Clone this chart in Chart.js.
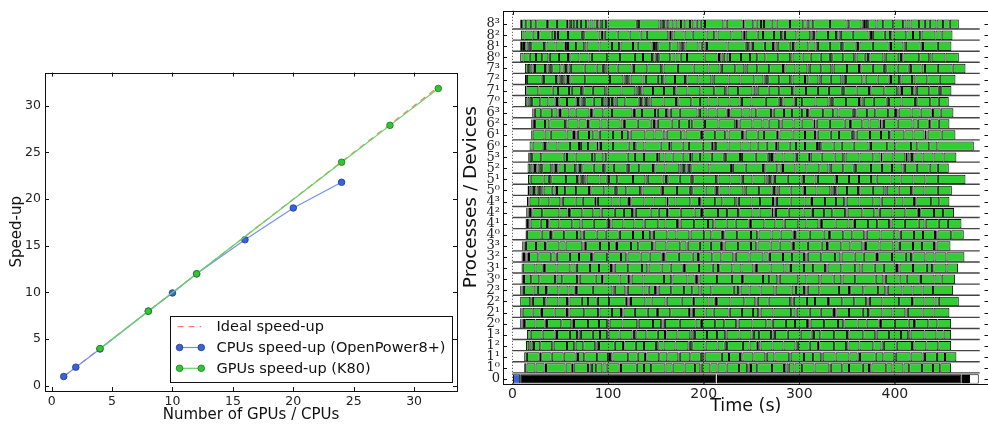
<!DOCTYPE html>
<html><head><meta charset="utf-8">
<script src="https://cdn.jsdelivr.net/npm/chart.js@4/dist/chart.umd.min.js"></script>
<style>
html,body{margin:0;padding:0;background:#fff;overflow:hidden;width:988px;height:424px}
#left{position:absolute;left:0;top:0;width:470px;height:424px}
#right{position:absolute;left:460px;top:0;width:532px;height:424px}
</style></head><body>
<div id="left"><canvas id="c1"></canvas></div>
<div id="right"><canvas id="c2"></canvas></div>
<script>
// ---------------- Left panel data ----------------
const idealCounts = [1, 32];
const idealSpeedup = [1, 32];
const cpuCounts = [1, 2, 4, 8, 10, 12, 16, 20, 24];
const cpuSpeedup = [1.0, 2.0, 3.95, 8.0, 9.95, 12.0, 15.65, 19.05, 21.8];
const gpuCounts = [4, 8, 12, 24, 28, 32];
const gpuSpeedup = [4.0, 8.0, 12.0, 23.95, 27.9, 31.85];
const leftXTicks = [0, 5, 10, 15, 20, 25, 30];
const leftYTicks = [0, 5, 10, 15, 20, 25, 30];

// ---------------- Right panel data ----------------
const rowLabels = ['0','1⁰','1¹','1²','1³','2⁰','2¹','2²','2³','3⁰','3¹','3²','3³',
  '4⁰','4¹','4²','4³','5⁰','5¹','5²','5³','6⁰','6¹','6²','6³','7⁰','7¹','7²','7³','8⁰','8¹','8²','8³'];
const timeTicks = [0, 100, 200, 300, 400];
const makespan = 488.8;
// process 0 (master): initial step, dense communication block, sparse tail tasks
const masterInit = [0.5, 8.0];
const masterDense = [[8.0, 213.3], [213.9, 469.6]];
const masterTail = [469.6, 471.3, 473.4, 475.5, 477.6, 487.8];
// task boundaries (s) for each worker device
const row1_0 = [12.2,14.5,24.0,33.5,35.0,55.5,62.0,64.0,79.0,80.5,83.0,87.5,94.0,98.5,112.0,113.5,130.0,137.5,145.0,160.0,167.5,180.0,191.0,196.5,198.0,207.0,214.5,224.0,237.0,245.5,247.0,249.5,256.0,271.5,284.0,286.5,289.0,295.0,303.0,316.0,331.5,333.0,345.0,352.0,366.5,373.0,375.5,391.0,397.5,409.0,415.0,428.5,440.0,447.5,458.9];
const row1_1 = [12.2,15.0,28.5,30.0,41.0,53.5,66.0,68.5,75.0,88.5,100.0,102.0,104.5,121.0,131.0,138.5,140.0,153.5,162.0,173.5,175.0,186.0,197.0,199.5,201.0,219.0,226.5,238.0,240.5,252.0,264.5,266.0,274.0,289.5,291.0,305.0,314.5,323.0,324.5,338.0,352.5,361.0,363.5,380.0,388.0,399.5,401.0,416.5,429.0,431.5,444.0,452.5,464.4];
const row1_2 = [14.0,17.5,20.0,22.5,29.0,41.5,43.0,57.0,64.5,66.0,74.0,86.5,88.0,90.5,107.0,115.5,117.0,129.0,137.5,150.0,152.5,158.0,170.5,184.0,185.5,188.0,202.0,214.5,222.0,224.5,241.0,248.0,255.5,257.0,259.5,272.0,283.5,296.0,298.5,311.0,319.5,321.0,336.5,349.0,351.5,363.0,377.5,386.0,388.5,402.0,418.0,420.5,433.0,445.5,458.9];
const row1_3 = [15.0,19.0,31.5,44.0,46.5,60.0,67.5,69.0,71.5,84.0,91.5,99.0,100.5,112.0,125.5,127.0,129.5,140.0,152.0,159.5,161.0,172.5,186.0,188.5,191.0,203.5,214.0,222.5,224.0,237.5,250.0,252.5,258.0,270.5,272.0,274.5,288.0,301.5,313.0,315.5,322.0,336.5,350.0,352.5,367.0,379.5,381.0,394.0,406.5,414.0,416.5,431.0,443.5,451.0,458.9];
const row2_0 = [8.0,9.3,10.6,11.9,13.2,24.0,33.5,34.8,36.1,51.0,61.5,63.0,64.3,79.0,90.5,99.0,100.3,101.6,115.0,130.5,132.0,147.0,155.5,156.8,158.1,159.4,175.0,191.5,197.0,198.3,212.0,221.5,234.0,235.3,236.6,251.0,265.5,271.0,272.3,286.0,295.5,308.0,309.3,310.6,311.9,326.0,340.5,346.0,347.3,361.0,370.5,383.0,384.3,385.6,400.0,414.5,420.0,421.3,435.0,444.5,458.9];
const row2_1 = [8.0,9.3,10.6,21.0,29.5,30.8,44.0,55.5,57.0,58.3,59.6,75.0,89.5,91.0,104.0,113.5,114.8,116.1,128.0,141.5,151.0,152.3,165.0,184.5,186.0,187.3,188.6,189.9,202.0,210.5,226.0,227.3,240.0,251.5,257.0,258.3,259.6,273.0,291.5,296.0,297.3,311.0,322.5,335.0,336.3,337.6,338.9,352.0,366.5,372.0,373.3,387.0,397.5,411.0,412.3,413.6,429.0,440.5,457.1];
const row2_2 = [8.0,18.5,20.0,21.3,33.0,35.5,48.0,57.0,58.3,59.6,72.5,79.0,88.0,89.3,101.0,118.5,120.0,121.3,122.6,123.9,139.0,145.5,160.0,161.3,177.0,188.5,190.0,205.0,211.5,212.8,214.1,228.0,242.5,254.0,255.3,256.6,268.0,290.5,293.0,294.3,308.0,316.5,330.0,331.3,345.0,357.5,370.0,371.3,372.6,373.9,387.0,404.5,418.0,419.3,431.0,441.5,446.0,466.9];
const row2_3 = [8.0,9.3,10.6,11.9,22.0,26.5,35.0,36.3,48.0,58.5,65.0,66.3,67.6,84.0,104.5,107.0,118.0,119.3,120.6,137.0,142.5,149.0,150.3,151.6,152.9,166.0,179.5,188.0,195.5,196.8,208.0,231.5,236.0,237.3,238.6,248.0,259.5,274.0,275.3,292.0,296.5,305.0,306.3,307.6,308.9,321.0,341.5,352.0,353.3,367.0,382.5,390.0,391.3,392.6,408.0,418.5,429.0,440.0,461.0];
const row3_0 = [9.4,10.7,12.0,19.5,28.0,44.5,46.0,52.0,67.5,69.0,70.3,87.0,93.5,95.0,112.0,120.5,122.0,123.3,124.6,137.0,158.5,166.0,167.3,183.0,190.5,191.8,193.1,194.4,195.7,214.0,229.5,240.0,241.3,262.0,268.5,277.0,278.3,279.6,299.0,307.5,321.0,322.3,336.0,344.0,345.3,358.5,380.0,388.0,389.3,390.6,405.0,412.5,426.0,427.3,441.5,449.0,463.1];
const row3_1 = [9.4,10.7,24.0,31.5,32.8,34.1,46.0,60.5,66.0,67.3,81.0,90.5,103.0,104.3,105.6,106.9,121.0,135.5,141.0,142.3,156.0,165.5,178.0,179.3,180.6,195.0,209.5,215.0,216.3,230.0,239.5,252.0,253.3,254.6,255.9,270.0,284.5,290.0,291.3,305.0,314.5,327.0,328.3,329.6,344.0,358.5,364.0,365.3,379.0,388.5,401.0,402.3,403.6,404.9,419.0,433.5,439.0,440.3,454.0,466.2];
const row3_2 = [9.4,10.7,12.0,13.3,14.6,15.9,17.2,27.0,40.5,45.0,46.3,60.0,69.5,82.0,83.3,84.6,99.0,113.5,119.0,120.3,134.0,143.5,156.0,157.3,158.6,159.9,174.0,188.5,194.0,195.3,209.0,218.5,231.0,232.3,233.6,248.0,262.5,268.0,269.3,283.0,292.5,305.0,306.3,307.6,308.9,323.0,337.5,343.0,344.3,358.0,367.5,380.0,381.3,382.6,397.0,411.5,417.0,418.3,432.0,441.5,454.0,472.8];
const row3_3 = [10.1,11.4,12.7,14.0,24.5,34.0,35.3,49.0,55.5,73.0,74.3,75.6,77.0,91.5,101.0,108.0,109.3,124.0,131.5,146.0,147.3,148.6,161.0,175.5,182.0,183.3,196.0,207.5,218.0,219.3,220.6,221.9,236.0,249.5,255.0,256.3,270.0,279.5,292.0,293.3,294.6,309.0,323.5,329.0,330.3,344.0,353.5,366.0,367.3,368.6,369.9,384.0,398.5,404.0,405.3,419.0,428.5,441.0,442.3,443.6,458.2];
const row4_0 = [13.6,15.0,30.5,39.0,40.3,41.6,54.0,67.5,72.0,73.3,74.6,88.0,97.5,111.0,112.3,126.0,136.5,144.0,145.3,146.6,147.9,162.0,171.5,185.0,186.3,200.5,208.0,219.0,220.3,221.6,235.0,249.5,256.0,257.3,271.0,280.5,293.0,294.3,295.6,296.9,311.0,325.5,331.0,332.3,346.0,355.5,368.0,369.3,370.6,385.0,399.5,405.0,406.3,420.0,429.5,442.0,443.3,444.6,459.0,472.1];
const row4_1 = [13.6,15.0,16.3,17.6,18.9,29.5,36.0,37.3,38.6,49.0,62.5,71.0,72.3,85.0,98.5,101.0,102.3,103.6,116.0,127.5,137.0,138.3,152.5,160.0,172.0,173.3,174.6,175.9,190.0,204.5,210.0,211.3,224.0,233.5,247.0,248.3,249.6,263.5,275.0,283.5,284.8,299.0,307.5,320.0,321.3,322.6,323.9,338.0,351.5,357.0,358.3,372.0,381.5,394.0,395.3,396.6,410.5,425.0,431.0,432.3,446.0,455.5,469.7];
const row4_2 = [14.3,15.6,16.9,18.2,19.5,20.8,31.0,49.0,57.5,59.0,60.3,73.0,84.5,92.0,93.3,107.0,116.5,125.0,126.3,127.6,129.0,144.5,153.0,161.5,163.0,176.0,190.5,197.0,198.3,199.6,215.0,224.5,236.0,237.3,251.0,258.5,271.0,273.0,274.3,275.6,289.0,304.5,313.0,314.3,326.0,334.5,348.0,349.3,350.6,366.0,378.5,383.0,384.3,397.5,411.0,424.0,425.3,426.6,441.0,450.5,462.0];
const row4_3 = [15.0,16.5,17.8,28.0,38.5,50.0,51.3,52.6,66.0,73.5,86.0,88.0,89.3,104.5,112.0,120.5,121.8,123.1,124.4,138.0,147.5,161.0,163.0,170.5,186.0,195.0,196.3,197.6,212.0,219.5,233.0,235.5,236.8,250.0,259.0,272.5,274.0,275.3,276.6,291.0,305.5,312.0,313.3,327.0,338.5,347.0,348.3,349.6,363.0,377.5,385.0,386.3,400.5,409.0,420.0,421.3,422.6,438.0,446.5,457.1];
const row5_0 = [15.7,17.5,20.0,22.5,25.0,27.5,30.0,32.5,41.0,44.0,46.5,55.0,66.5,80.0,82.5,96.0,107.0,109.5,119.0,133.5,136.0,155.0,157.5,172.0,185.5,188.0,202.0,211.5,214.0,216.5,227.0,241.5,244.0,258.0,271.0,273.5,276.0,278.5,291.0,303.5,306.0,318.0,332.5,335.0,337.5,340.0,350.0,361.5,364.0,377.0,389.0,391.5,404.0,417.0,419.5,431.0,445.0,459.6];
const row5_1 = [16.1,19.0,32.5,38.0,40.5,56.0,67.5,70.0,72.5,75.0,77.5,91.0,98.5,101.0,109.5,126.0,139.0,141.5,157.0,160.5,163.0,175.0,186.5,189.0,213.0,215.5,228.0,238.5,241.0,251.0,264.5,267.0,269.5,272.0,274.5,288.0,302.5,305.0,316.0,319.5,337.0,339.5,352.0,362.5,375.0,381.0,395.5,406.0,419.5,432.0,445.0,473.9];
const row5_2 = [15.7,18.5,21.0,23.5,26.0,28.5,31.0,40.5,43.0,45.5,48.0,55.0,65.5,68.0,70.5,73.0,85.0,94.5,97.0,106.0,119.5,122.0,132.5,147.0,149.5,160.0,174.5,177.0,179.5,182.0,184.5,187.0,206.0,228.5,230.5,244.0,262.0,264.5,277.0,280.5,283.0,296.0,307.5,321.0,330.5,333.0,346.0,357.0,359.5,375.0,386.5,397.0,408.0,410.5,423.0,436.5,445.0,456.4];
const row5_3 = [16.4,18.0,20.5,30.0,53.5,57.0,66.0,83.0,86.5,95.0,98.0,120.5,128.0,137.5,151.0,153.0,159.0,167.5,178.0,185.5,187.5,196.0,208.5,221.0,223.5,238.0,240.0,254.5,267.0,269.5,271.5,274.0,283.5,295.0,297.5,310.0,312.0,323.5,337.0,346.0,348.5,363.0,377.5,385.0,387.0,398.5,411.0,413.0,415.5,418.0,420.5,429.0,440.5,451.0,464.4];
const row6_0 = [17.8,21.0,31.5,34.0,36.5,47.0,60.0,69.5,71.5,79.0,88.0,90.0,92.5,105.0,121.5,127.0,129.5,138.0,155.0,163.5,165.5,178.0,184.5,199.0,208.5,210.5,213.0,226.0,239.5,248.0,256.5,266.0,275.5,277.5,290.0,296.5,306.0,318.5,320.5,323.0,336.0,344.5,357.0,372.5,375.0,392.0,400.5,417.0,423.5,436.0,444.5,482.6];
const row6_1 = [19.5,21.0,33.5,40.0,56.5,63.0,64.3,65.6,67.0,68.3,80.0,84.5,90.0,91.3,105.0,114.5,121.0,122.3,123.6,139.0,148.5,157.0,160.0,161.3,176.5,181.0,197.0,198.3,199.6,212.0,222.5,226.0,240.0,241.3,242.6,243.9,256.5,263.0,276.5,278.0,279.3,293.0,306.0,316.5,318.0,319.3,333.0,341.5,355.0,357.5,358.8,360.1,374.0,385.5,394.0,395.3,410.0,419.5,431.0,433.0,434.3,449.0,463.4];
const row6_2 = [19.5,21.0,22.3,23.6,34.0,38.5,55.0,57.5,69.0,77.5,79.0,80.3,92.0,99.5,113.0,116.5,117.8,131.0,144.5,148.0,149.3,150.6,152.0,166.5,174.0,184.5,188.0,200.0,201.3,215.5,233.0,235.0,236.3,237.6,251.0,261.5,268.0,279.0,280.3,281.6,294.0,302.5,315.0,317.0,318.3,332.0,347.5,353.0,354.3,366.0,373.5,384.0,386.0,387.3,388.6,403.0,418.5,424.0,435.5,437.0,446.0,457.1];
const row6_3 = [20.6,22.0,23.3,30.0,41.5,47.0,48.3,49.6,51.0,59.5,66.0,80.5,82.0,83.3,84.6,95.0,104.0,125.5,127.0,128.3,135.5,149.0,152.0,160.5,163.0,164.3,165.6,175.0,193.5,196.0,204.0,213.5,224.0,225.3,226.6,228.0,240.5,249.0,255.0,270.5,272.0,273.3,284.0,292.5,303.0,308.0,309.3,310.6,325.0,335.5,341.0,356.0,358.5,359.8,371.0,379.5,393.0,400.0,401.3,402.6,404.0,417.5,427.0,438.5,440.0,448.0,461.3];
const row7_0 = [12.9,15.5,18.0,20.5,29.0,37.5,44.0,46.5,49.0,57.0,66.0,68.5,71.0,73.5,76.0,85.0,93.5,96.0,98.5,101.0,104.0,106.5,109.0,118.0,132.0,134.5,137.0,139.5,142.0,144.5,158.0,171.0,173.5,187.0,196.0,205.0,214.5,227.0,237.5,240.0,250.0,265.0,278.5,281.0,283.5,294.0,296.5,303.0,317.0,330.5,333.0,335.5,349.0,362.5,365.0,367.5,378.0,391.5,394.0,407.0,421.0,423.5,437.0,446.0,456.4];
const row7_1 = [12.9,14.5,27.0,42.0,47.5,59.0,62.0,71.5,74.0,84.0,97.0,99.5,114.0,128.5,131.0,133.5,136.0,147.0,158.5,169.0,171.5,183.0,196.5,211.0,222.5,225.0,236.0,251.0,254.0,256.5,268.0,279.0,292.5,295.0,307.0,319.5,331.0,344.5,347.0,360.0,373.0,375.5,389.0,402.5,405.0,407.5,418.0,420.5,423.0,436.0,446.0,448.5,459.2];
const row7_2 = [12.9,15.0,30.5,33.0,45.5,48.0,50.5,53.0,55.5,58.0,60.5,76.0,102.0,116.0,118.5,121.0,123.5,136.0,139.5,152.0,156.5,159.0,170.0,180.5,183.0,194.5,208.0,210.5,226.0,238.5,253.0,262.5,265.0,267.5,279.0,290.5,293.0,306.0,309.5,320.0,322.5,333.0,344.0,346.5,349.0,366.0,369.5,382.0,393.5,396.0,404.5,407.0,418.0,421.5,434.0,447.0,463.4];
const row7_3 = [12.9,16.0,18.5,21.0,23.5,34.0,36.5,39.0,41.5,50.0,53.5,56.0,58.5,61.0,75.5,88.0,94.5,97.0,99.5,110.0,124.5,127.0,141.0,155.5,158.0,173.0,189.5,205.0,216.5,219.0,233.0,242.5,245.0,256.0,268.5,283.0,285.5,296.0,308.5,311.0,323.0,333.5,336.0,350.0,362.5,365.0,377.0,388.5,391.0,403.0,414.5,417.0,428.0,431.5,445.0,460.5,473.9];
const row8_0 = [8.0,11.5,18.0,24.5,31.0,37.5,39.0,48.5,58.0,60.5,70.0,79.5,83.0,99.0,112.5,128.0,136.5,146.0,148.5,151.0,153.5,165.0,170.5,176.0,182.5,201.0,214.5,216.0,218.5,221.0,224.0,227.5,239.0,248.5,256.0,264.5,278.0,290.5,293.0,303.5,312.0,322.5,332.0,334.5,346.0,357.5,360.0,368.5,372.0,374.5,388.0,390.5,403.0,406.5,409.0,425.5,436.0,438.5,453.0,466.9];
const row8_1 = [8.0,10.0,12.0,14.5,17.0,19.5,33.0,35.5,45.0,54.5,56.0,58.0,66.5,75.0,77.5,91.0,104.0,111.5,113.0,126.0,131.0,145.5,148.0,150.0,152.5,165.0,173.5,176.0,178.5,181.0,194.5,198.0,201.0,203.5,225.0,244.0,246.5,249.0,251.5,264.0,272.5,275.0,277.5,290.0,293.5,296.0,309.5,317.0,319.5,332.0,343.5,346.0,359.0,361.5,363.0,377.0,393.5,396.0,409.0,411.5,427.0,429.5,445.0,459.2];
const row8_2 = [8.7,12.5,21.0,26.5,28.0,41.0,44.5,46.0,47.5,58.0,72.5,75.0,90.0,93.5,95.0,96.5,110.0,122.5,134.0,140.5,163.0,164.5,166.0,168.5,180.0,188.5,203.0,211.0,214.5,229.0,240.5,242.0,244.0,256.5,262.0,273.5,281.0,283.5,285.0,297.0,311.5,313.0,315.5,317.0,330.0,338.5,341.0,343.5,356.0,372.5,375.0,377.0,389.5,395.0,397.5,412.0,419.0,426.5,428.0,442.5,449.0,460.3];
const row8_3 = [8.0,10.1,14.3,19.5,24.8,35.9,37.3,46.4,56.8,58.6,61.0,64.5,67.3,71.5,77.0,80.5,84.7,88.2,91.0,93.4,97.9,99.3,130.0,132.4,153.7,156.1,158.6,161.3,164.1,168.3,172.5,176.3,180.8,185.7,189.2,192.7,196.9,201.4,220.6,224.1,240.8,242.5,251.9,255.4,259.9,263.1,271.1,276.3,290.3,304.2,307.7,310.5,314.6,332.1,349.5,352.3,365.1,367.6,369.7,372.1,380.8,387.8,398.3,408.7,412.2,416.4,425.4,431.4,436.6,443.6,450.5,457.5,466.9];

const workerRows = [row1_0,row1_1,row1_2,row1_3,row2_0,row2_1,row2_2,row2_3,row3_0,row3_1,row3_2,row3_3,
  row4_0,row4_1,row4_2,row4_3,row5_0,row5_1,row5_2,row5_3,row6_0,row6_1,row6_2,row6_3,row7_0,row7_1,row7_2,row7_3,row8_0,row8_1,row8_2,row8_3];

// ---------------- helpers ----------------
const pts = (xs, ys) => xs.map((x, i) => ({x: x, y: ys[i]}));
const segs = (bounds, row) => bounds.slice(1).map((b, i) => ({x: [bounds[i], b], y: row}));
const FONT = 'DejaVu Sans';

const framePlugin = {
  id: 'frame',
  afterDatasetsDraw(chart, args, opts) {
    const {ctx, chartArea: a, scales} = chart;
    const L = opts.tickLen || 4;
    ctx.save();
    ctx.strokeStyle = opts.color || '#111';
    ctx.lineWidth = 1;
    ctx.beginPath();
    scales.x.ticks.forEach(t => {
      const p = Math.round(scales.x.getPixelForValue(t.value)) + 0.5;
      ctx.moveTo(p, a.bottom); ctx.lineTo(p, a.bottom - L);
      ctx.moveTo(p, a.top); ctx.lineTo(p, a.top + L);
    });
    scales.y.ticks.forEach(t => {
      const p = Math.round(scales.y.getPixelForValue(t.value)) + 0.5;
      ctx.moveTo(a.left, p); ctx.lineTo(a.left + L, p);
      ctx.moveTo(a.right, p); ctx.lineTo(a.right - L, p);
    });
    ctx.stroke();
    ctx.strokeRect(Math.round(a.left) + 0.5, Math.round(a.top) + 0.5,
      Math.round(a.right - a.left), Math.round(a.bottom - a.top));
    ctx.restore();
  }
};

const legendPlugin = {
  id: 'boxLegend',
  afterDraw(chart) {
    const {ctx, chartArea: a} = chart;
    const ds = chart.data.datasets.slice().sort((p, q) => q.order - p.order);
    ctx.save();
    ctx.font = '14.5px "' + FONT + '"';
    const tw = Math.max(...ds.map(d => ctx.measureText(d.label).width));
    const right = a.right - 5, bottom = a.bottom - 9;
    const w = 46.3 + tw + 6.5, h = 66.3;
    const left = right - w, top = bottom - h;
    ctx.fillStyle = '#fff';
    ctx.fillRect(left, top, w, h);
    ctx.strokeStyle = '#111'; ctx.lineWidth = 1;
    ctx.strokeRect(Math.round(left) + 0.5, Math.round(top) + 0.5, Math.round(w), Math.round(h));
    ds.forEach((d, i) => {
      const cy = top + 11 + i * 20.8;
      const x0 = left + 9.3, x1 = left + 31;
      ctx.save();
      ctx.strokeStyle = d.borderColor; ctx.lineWidth = d.borderWidth;
      ctx.setLineDash(d.borderDash || []);
      ctx.beginPath(); ctx.moveTo(x0 - (d.pointRadius ? 0 : 2), cy); ctx.lineTo(x1, cy); ctx.stroke();
      ctx.restore();
      if (d.pointRadius) {
        [x0, x1].forEach(px => {
          ctx.beginPath(); ctx.arc(px, cy, d.pointRadius, 0, Math.PI * 2);
          ctx.fillStyle = d.pointBackgroundColor; ctx.fill();
          ctx.strokeStyle = d.pointBorderColor; ctx.lineWidth = d.pointBorderWidth; ctx.stroke();
        });
      }
      ctx.fillStyle = '#111'; ctx.textBaseline = 'middle'; ctx.textAlign = 'left';
      ctx.fillText(d.label, left + 46.3, cy + 0.5);
    });
    ctx.restore();
  }
};

const rowLinePlugin = {
  id: 'rowLines',
  afterDatasetsDraw(chart) {
    const {ctx, scales: {x, y}} = chart;
    ctx.save();
    ctx.strokeStyle = '#444'; ctx.lineWidth = 1.4;
    ctx.beginPath();
    for (let r = 1; r < rowLabels.length; r++) {
      const py = y.getPixelForValue(r - 0.44);
      ctx.moveTo(x.getPixelForValue(0), py); ctx.lineTo(x.getPixelForValue(makespan), py);
    }
    ctx.stroke();
    ctx.restore();
  }
};

// ---------------- Left chart ----------------
new Chart(document.getElementById('c1'), {
  type: 'line',
  data: {datasets: [
    {label: 'Ideal speed-up', data: pts(idealCounts, idealSpeedup), borderColor: 'rgba(255,90,90,0.8)',
     borderDash: [6, 5], borderWidth: 1.3, pointRadius: 0, order: 3},
    {label: 'CPUs speed-up (OpenPower8+)', data: pts(cpuCounts, cpuSpeedup), borderColor: '#7391ee',
     borderWidth: 1.2, pointRadius: 3.3, pointBackgroundColor: '#3b63d8', pointBorderColor: '#1d3a8a',
     pointBorderWidth: 0.8, order: 2},
    {label: 'GPUs speed-up (K80)', data: pts(gpuCounts, gpuSpeedup), borderColor: '#62d462',
     borderWidth: 1.2, pointRadius: 3.3, pointBackgroundColor: '#35c435', pointBorderColor: '#1b7a1b',
     pointBorderWidth: 0.8, order: 1}
  ]},
  options: {
    responsive: true, maintainAspectRatio: false, animation: false, devicePixelRatio: 1,
    layout: {padding: {left: 0, right: 13, top: 72.6, bottom: 0}},
    plugins: {legend: {display: false}, tooltip: {enabled: false}, frame: {tickLen: 4}},
    scales: {
      x: {type: 'linear', min: -0.55, max: 33.55,
        afterBuildTicks: s => { s.ticks = leftXTicks.map(v => ({value: v})); },
        afterFit: s => { s.height = 33; },
        grid: {display: false, drawTicks: false}, border: {display: false},
        ticks: {autoSkip: false, maxRotation: 0, padding: 3, color: '#222', font: {family: FONT, size: 12.5}},
        title: {display: true, text: 'Number of GPUs / CPUs', color: '#111',
          font: {family: FONT, size: 15, lineHeight: 1}, padding: {top: 0, bottom: 1}}},
      y: {type: 'linear', min: -0.55, max: 33.55,
        afterBuildTicks: s => { s.ticks = leftYTicks.map(v => ({value: v})); },
        afterFit: s => { s.width = 45; },
        grid: {display: false, drawTicks: false}, border: {display: false},
        ticks: {autoSkip: false, padding: 4, color: '#222', font: {family: FONT, size: 12.5}},
        title: {display: true, text: 'Speed-up', color: '#111',
          font: {family: FONT, size: 15, lineHeight: 1.2}, padding: {top: 7.7, bottom: 0}}}
    }
  },
  plugins: [framePlugin, legendPlugin]
});

// ---------------- Right chart ----------------
const workerTasks = [];
workerRows.forEach((b, i) => { segs(b, i + 1).forEach(s => workerTasks.push(s)); });

new Chart(document.getElementById('c2'), {
  type: 'bar',
  data: {datasets: [
    {label: 'tasks', data: workerTasks, backgroundColor: 'rgb(50,205,50)', borderColor: '#000'},
    {label: 'master', data: masterDense.map(r => ({x: r, y: 0})), backgroundColor: '#000', borderColor: '#000'},
    {label: 'master tail', data: segs(masterTail, 0), backgroundColor: '#fff', borderColor: '#000'},
    {label: 'init', data: [{x: masterInit, y: 0}], backgroundColor: '#3b63d8', borderColor: '#000'}
  ]},
  options: {
    indexAxis: 'y', responsive: true, maintainAspectRatio: false, animation: false, devicePixelRatio: 1,
    datasets: {bar: {grouped: false, borderWidth: 1, borderSkipped: false, categoryPercentage: 0.85,
      barPercentage: 1, inflateAmount: 0}},
    layout: {padding: {left: 0, right: 3.5, top: 7.3, bottom: 0}},
    plugins: {legend: {display: false}, tooltip: {enabled: false}, frame: {tickLen: 4}},
    scales: {
      x: {type: 'linear', min: -10, max: 498,
        afterBuildTicks: s => { s.ticks = timeTicks.map(v => ({value: v})); },
        afterFit: s => { s.height = 40.5; },
        grid: {display: true, drawTicks: false, color: 'rgba(0,0,0,0.75)', lineWidth: 1, z: 1},
        border: {display: false, dash: [1, 2]},
        ticks: {autoSkip: false, maxRotation: 0, padding: 2.5, color: '#222', font: {family: FONT, size: 14}},
        title: {display: true, text: 'Time (s)', color: '#111',
          font: {family: FONT, size: 17.5, lineHeight: 1.2}, padding: {top: 0, bottom: 7.5}}},
      y: {type: 'linear', min: -0.4, max: 33.2, offset: false,
        afterBuildTicks: s => { s.ticks = rowLabels.map((l, i) => ({value: i})); },
        afterFit: s => { s.width = 43; },
        grid: {display: false, drawTicks: false, offset: false}, border: {display: false},
        ticks: {autoSkip: false, padding: 3, color: '#222', font: {family: 'DejaVu Serif', size: 13},
          callback: v => rowLabels[v]},
        title: {display: true, text: 'Processes / Devices', color: '#111',
          font: {family: FONT, size: 18.5, lineHeight: 1.2}, padding: {top: 0.5, bottom: 0}}}
    }
  },
  plugins: [framePlugin, rowLinePlugin]
});
</script>
</body></html>
